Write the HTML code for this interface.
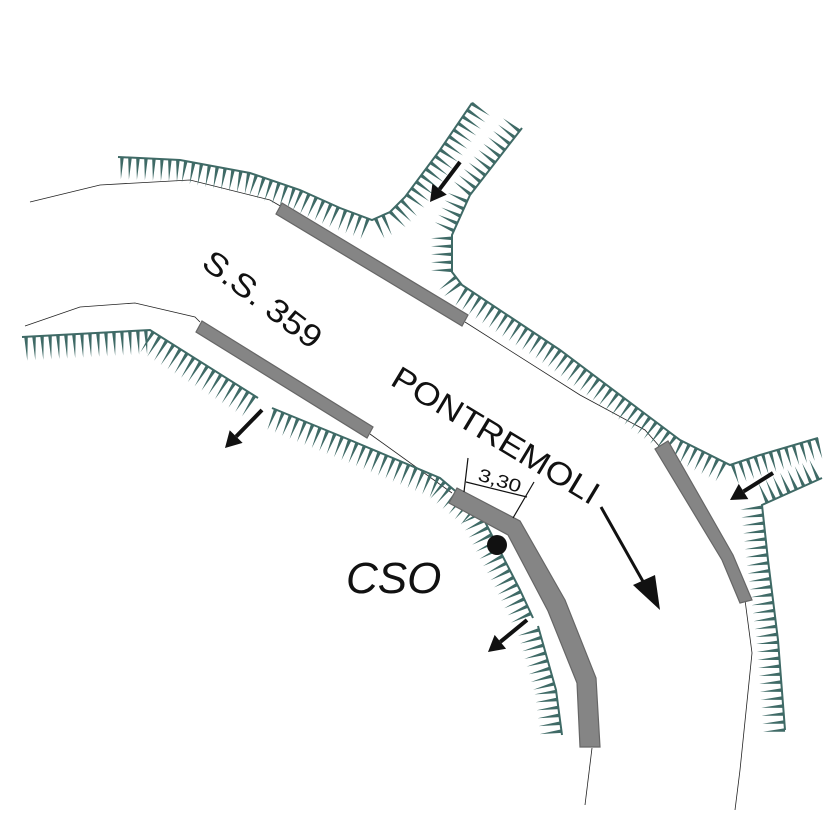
<!DOCTYPE html>
<html><head><meta charset="utf-8"><style>
html,body{margin:0;padding:0;background:#fff;width:827px;height:827px;overflow:hidden}
svg{display:block}
text{font-family:"Liberation Sans",sans-serif;fill:#111}
</style></head><body>
<svg id="s" width="827" height="827" viewBox="0 0 827 827" xmlns="http://www.w3.org/2000/svg">
<g fill="none" stroke="#222" stroke-width="0.8">
<polyline points="30,202 100,185 190,180 270,200 282,207"/>
<polyline points="465,322 580,395 645,430 660,447"/>
<polyline points="745,600 752,653 740,770 735,810"/>
<polyline points="25,326 80,307 135,303 195,317 200,322"/>
<polyline points="370,434 452,493"/>
<polyline points="592,748 585,805"/>
</g>
<g id="h"></g>
<g fill="#858585" stroke="#666" stroke-width="1.2">
<polygon points="282,203 468,315 462,326 276,214"/>
<polygon points="202,321 373,427 367,438 196,332"/>
<polygon points="457,488 520,521 565,600 596,678 600,747 580,747 577,683 548,611 508,535 449,503"/>
<polygon points="655,449 668,441 733,555 752,600 740,603 722,560"/>
</g>
<g stroke="#111" stroke-width="1.2" fill="none">
<line x1="468" y1="458" x2="464" y2="492"/>
<line x1="534" y1="482" x2="513" y2="518"/>
<line x1="466" y1="482" x2="527" y2="497"/>
</g>
<text x="0" y="0" font-size="18" textLength="44" lengthAdjust="spacingAndGlyphs" transform="translate(477,480) rotate(17)">3,30</text>
<circle cx="497" cy="545" r="10" fill="#111"/>
<g stroke="#111" stroke-width="3" fill="#111">
<line x1="601" y1="507" x2="645" y2="585"/>
<polygon points="660,610 633,585 655,575" stroke="none"/>
</g>
<g id="arrows" fill="#111"></g>
<text font-size="32" textLength="140" lengthAdjust="spacingAndGlyphs" transform="translate(200,266) rotate(37)">S.S. 359</text>
<text font-size="32" textLength="236" lengthAdjust="spacingAndGlyphs" transform="translate(389,384) rotate(31)">PONTREMOLI</text>
<text font-size="44" font-style="italic" x="346" y="593">CSO</text>
</svg>
<script>
var NS="http://www.w3.org/2000/svg";
var g=document.getElementById("h");
function hach(pts,L,sp){
  var d="",base="M"+pts[0][0]+","+pts[0][1];
  var carry=sp/2;
  for(var i=0;i<pts.length-1;i++){
    var a=pts[i],b=pts[i+1],dx=b[0]-a[0],dy=b[1]-a[1],len=Math.hypot(dx,dy);
    var ux=dx/len,uy=dy/len,nx=-uy,ny=ux;
    base+=" L"+b[0]+","+b[1];
    var t=carry;
    while(t<len){
      var x=a[0]+ux*t,y=a[1]+uy*t,w=1.8;
      d+="M"+(x-ux*w).toFixed(1)+","+(y-uy*w).toFixed(1)+"L"+(x+ux*w).toFixed(1)+","+(y+uy*w).toFixed(1)+"L"+(x+nx*L).toFixed(1)+","+(y+ny*L).toFixed(1)+"Z";
      t+=sp;
    }
    carry=t-len;
  }
  var p=document.createElementNS(NS,"path");p.setAttribute("d",d);p.setAttribute("fill","#3f6a66");g.appendChild(p);
  var q=document.createElementNS(NS,"path");q.setAttribute("d",base);q.setAttribute("fill","none");q.setAttribute("stroke","#3f6a66");q.setAttribute("stroke-width","2");g.appendChild(q);
}
hach([[118,157],[180,160],[250,173],[300,190],[340,208],[372,220],[390,212],[405,197],[440,150],[472,103]],22,8);
hach([[522,128],[470,195],[452,235],[452,272],[462,285],[560,350],[640,410],[680,440],[730,465],[760,455],[818,438]],21,8);
hach([[822,478],[762,505],[768,560],[778,640],[785,730]],22,8);
hach([[22,337],[150,330],[258,398]],24,8);
hach([[272,408],[350,440],[440,478],[480,512],[520,590],[533,618]],22,8);
hach([[538,626],[556,690],[562,735]],22,8);
var A=document.getElementById("arrows");
function arr(tx,ty,hx,hy){
  var dx=hx-tx,dy=hy-ty,l=Math.hypot(dx,dy),ux=dx/l,uy=dy/l,nx=-uy,ny=ux;
  var bx=hx-ux*16,by=hy-uy*16;
  var ln=document.createElementNS(NS,"line");
  ln.setAttribute("x1",tx);ln.setAttribute("y1",ty);ln.setAttribute("x2",bx);ln.setAttribute("y2",by);
  ln.setAttribute("stroke","#111");ln.setAttribute("stroke-width","4");A.appendChild(ln);
  var p=document.createElementNS(NS,"polygon");
  p.setAttribute("points",hx+","+hy+" "+(bx+nx*9)+","+(by+ny*9)+" "+(bx-nx*9)+","+(by-ny*9));
  A.appendChild(p);
}
arr(460,162,430,202);
arr(262,410,225,448);
arr(527,620,488,652);
arr(773,473,730,500);
</script>
</body></html>
